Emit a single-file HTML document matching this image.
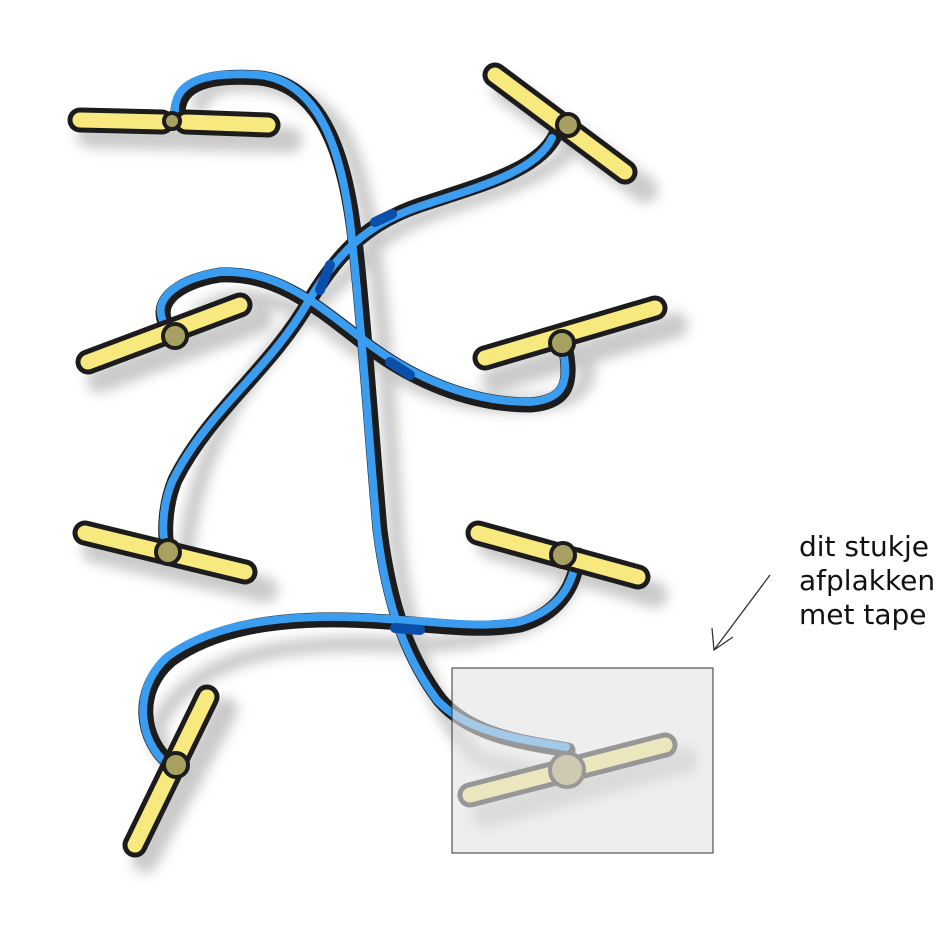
<!DOCTYPE html>
<html><head><meta charset="utf-8"><style>
html,body{margin:0;padding:0;background:#fff;width:938px;height:929px;overflow:hidden}
svg{display:block}
</style></head><body>
<svg width="938" height="929" viewBox="0 0 938 929" xmlns="http://www.w3.org/2000/svg">
<defs>
<filter id="sh" x="-20%" y="-20%" width="140%" height="140%"><feGaussianBlur stdDeviation="6"/></filter>
</defs>
<g stroke="#c4c4c4" fill="none" stroke-width="16" stroke-linecap="round" filter="url(#sh)" opacity="0.9">
<path d="M200,105 C200,75 300,70 340,130 C375,190 385,330 395,520 C400,600 420,700 480,760 L570,780"/>
<path d="M570,150 C520,200 420,200 370,250 C330,300 200,380 185,560"/>
<path d="M190,350 C180,300 250,280 320,320 C380,370 450,420 560,400 C590,390 590,370 585,360"/>
<path d="M575,570 C560,640 450,645 400,645 C300,640 200,650 160,720 C150,760 190,780 195,780"/>
<g stroke-width="26"><path d="M90,135 L290,140"/><path d="M505,90 L645,190"/><path d="M100,380 L260,320"/><path d="M495,380 L675,325"/><path d="M95,550 L265,590"/><path d="M490,545 L655,595"/><path d="M145,860 L225,710"/><path d="M485,815 L685,760"/></g>
</g>
<g fill="none" stroke-linecap="round" stroke-linejoin="round">
<g stroke="#1c1c1c" stroke-width="15">
<path d="M578,555 C575,590 555,615 520,625 C480,632 440,626 400,623 C330,617 230,615 170,660 C135,690 140,740 172,765"/>
<path d="M556,134 C540,170 480,185 420,205 C370,222 340,250 310,300 C270,370 210,410 175,480 C163,510 165,540 168,552"/>
<path d="M170,330 C150,305 175,282 220,275 C275,272 315,305 360,340 C410,380 470,405 530,405 C570,402 572,380 565,345"/>
<path d="M178,118 C175,80 215,75 260,78 C320,85 345,150 355,240 C365,330 372,440 380,530 C390,610 410,660 440,700 C470,735 520,742 568,750"/>
</g>
<g stroke="#3a9df0" stroke-width="8">
<path d="M576,557 C573,590 553,613 518,622 C478,628 440,622 400,620 C330,614 228,612 167,657 C133,688 137,740 168,765"/>
<path d="M552,138 C536,172 478,187 418,207 C368,224 338,252 308,302 C268,372 206,412 172,482 C160,512 163,540 166,550"/>
<path d="M167,327 C148,303 173,279 220,272 C275,269 315,302 360,337 C410,377 470,402 530,402 C567,399 569,379 562,345"/>
<path d="M175,115 C172,77 213,72 260,75 C318,82 343,148 352,240 C362,330 369,440 377,530 C387,610 407,660 437,700 C467,732 518,739 566,747"/>
</g>
<g stroke="#0a4faa" stroke-width="10">
<path d="M375,222 L392,214"/><path d="M330,265 L320,290"/><path d="M390,362 L410,375"/><path d="M395,628 L420,630"/>
</g>
</g>
<g stroke-linecap="round">
<g stroke="#1c1c1c" stroke-width="25">
<path d="M80,120 L162,122"/><path d="M186,122 L268,125"/>
<path d="M495,75 L625,172"/>
<path d="M88,362 L240,305"/>
<path d="M485,358 L655,308"/>
<path d="M85,533 L245,572"/>
<path d="M478,533 L638,577"/>
<path d="M135,845 L207,697"/>
<path d="M470,795 L665,745"/>
</g>
<g stroke="#f8e97e" stroke-width="15">
<path d="M80,120 L162,122"/><path d="M186,122 L268,125"/>
<path d="M495,75 L625,172"/>
<path d="M88,362 L240,305"/>
<path d="M485,358 L655,308"/>
<path d="M85,533 L245,572"/>
<path d="M478,533 L638,577"/>
<path d="M135,845 L207,697"/>
<path d="M470,795 L665,745"/>
</g>
</g>
<g fill="#a8a060" stroke="#1c1c1c" stroke-width="4">
<circle cx="172" cy="121" r="8"/><circle cx="568" cy="125" r="11"/><circle cx="175" cy="336" r="12"/>
<circle cx="562" cy="343" r="12"/><circle cx="168" cy="552" r="12"/><circle cx="563" cy="555" r="12"/>
<circle cx="176" cy="765" r="12"/><circle cx="567" cy="770" r="17"/>
</g>
<rect x="452" y="668" width="261" height="185" fill="#e4e4e4" fill-opacity="0.62" stroke="#333" stroke-width="1"/>
<g stroke="#333" stroke-width="1.3" fill="none"><path d="M770,575 L714,650"/><path d="M712,628 L714,650 L733,637"/></g>
<g font-family="'DejaVu Sans','Liberation Sans',sans-serif" font-size="28" fill="#111">
<text x="799" y="556">dit stukje</text>
<text x="799" y="590">afplakken</text>
<text x="799" y="624">met tape</text>
</g>
</svg>
</body></html>
